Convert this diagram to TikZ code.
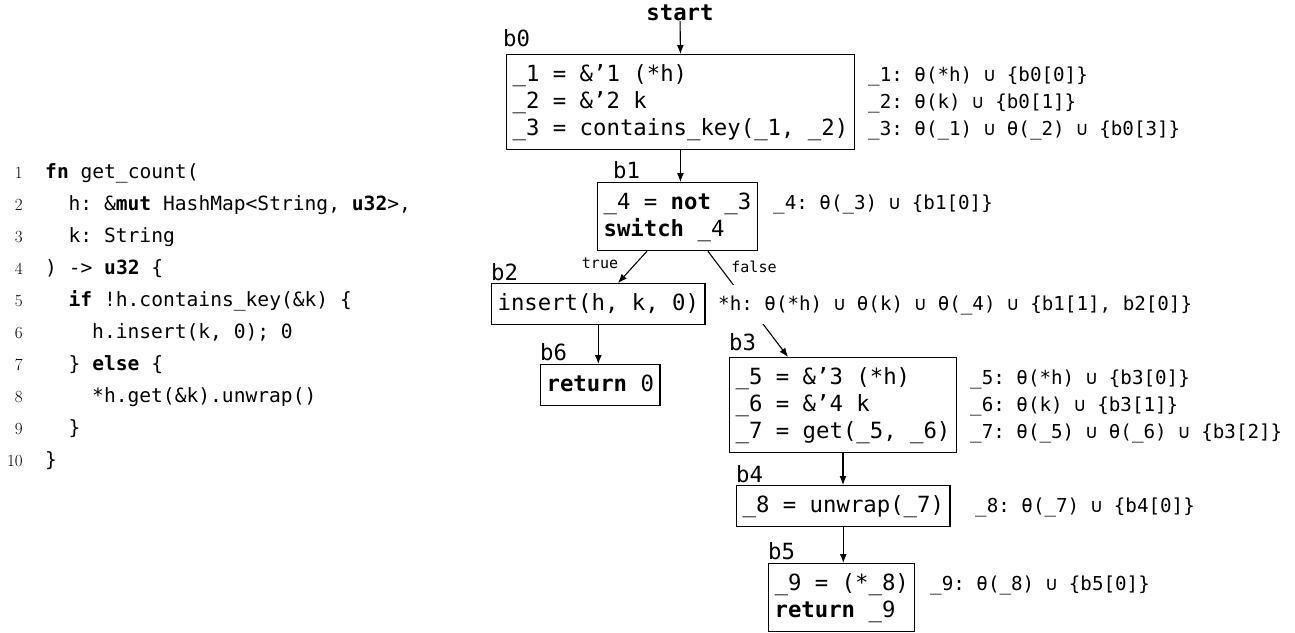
\documentclass[tikz,border=0pt]{standalone}
\usepackage{fontspec}
\setmonofont{DejaVu Sans Mono}
\usetikzlibrary{arrows.meta,calc}
\newcommand\boxfont{\ttfamily\fontsize{22.3}{27}\selectfont}
\newcommand\annfont{\ttfamily\fontsize{19.2}{27}\selectfont}
\newcommand\codefont{\ttfamily\fontsize{19.6}{22}\selectfont}
\newcommand\sx{\rule[-7pt]{0pt}{27pt}}
\begin{document}
\begin{tikzpicture}[x=1pt,y=-1pt,
  blk/.style={draw,line width=1.2pt,inner xsep=6pt,inner ysep=7pt,align=left,anchor=north west,font=\boxfont},
  ann/.style={inner xsep=0pt,inner ysep=7pt,align=left,anchor=north west,font=\annfont},
  blab/.style={anchor=base west,inner sep=0pt,font=\boxfont},
  arr/.style={line width=1.1pt,-{Latex[length=9pt,width=7pt]}},
  edgelab/.style={font=\ttfamily\fontsize{15}{18}\selectfont,inner sep=0pt},
  code/.style={anchor=base west,inner sep=0pt,font=\codefont},
  lno/.style={anchor=base east,inner sep=0pt,font=\fontsize{17}{19}\selectfont}]
\useasboundingbox (0,0) rectangle (1295,632);

% code listing
\node[lno] (n1) at (23,178) {1};
\node[lno] (n2) at (23,210) {2};
\node[lno] (n3) at (23,242) {3};
\node[lno] (n4) at (23,274) {4};
\node[lno] (n5) at (23,306) {5};
\node[lno] (n6) at (23,338) {6};
\node[lno] (n7) at (23,370) {7};
\node[lno] (n8) at (23,402) {8};
\node[lno] (n9) at (23,434) {9};
\node[lno] (n10) at (23,466) {10};
\node[code] (c1) at (45,178) {\textbf{fn} get\_count(};
\node[code] (c2) at (68.5,210) {h: \&\textbf{mut} HashMap<String, \textbf{u32}>,};
\node[code] (c3) at (68.5,242) {k: String};
\node[code] (c4) at (45,274) {) -> \textbf{u32} \{};
\node[code] (c5) at (68.5,306) {\textbf{if} !h.contains\_key(\&k) \{};
\node[code] (c6) at (92,338) {h.insert(k, 0); 0};
\node[code] (c7) at (68.5,370) {\} \textbf{else} \{};
\node[code] (c8) at (92,402) {*h.get(\&k).unwrap()};
\node[code] (c9) at (68.5,434) {\}};
\node[code] (c10) at (45,466) {\}};

% blocks
\node[font=\boxfont\bfseries,inner sep=0pt] (start) at (680,13) {start};
\node[blk] (b0) at (506,54) {\sx\_1 = \&’1 (*h)\\\sx\_2 = \&’2 k\\\sx\_3 = contains\_key(\_1, \_2)};
\node[blk] (b1) at (597,182) {\sx\_4 = \textbf{not} \_3\\\sx\textbf{switch} \_4};
\node[blk] (b2) at (491,283) {\sx insert(h, k, 0)};
\node[blk] (b6) at (540,364) {\sx\textbf{return} 0};
\node[blk] (b3) at (729,357) {\sx\_5 = \&’3 (*h)\\\sx\_6 = \&’4 k\\\sx\_7 = get(\_5, \_6)};
\node[blk] (b4) at (736,485) {\sx\_8 = unwrap(\_7)};
\node[blk] (b5) at (768,563) {\sx\_9 = (*\_8)\\\sx\textbf{return} \_9};

% block labels
\node[blab] (l0) at (503,46) {b0};
\node[blab] (l1) at (613,178) {b1};
\node[blab] (l2) at (491,280) {b2};
\node[blab] (l6) at (540,360) {b6};
\node[blab] (l3) at (729,350) {b3};
\node[blab] (l4) at (736,482) {b4};
\node[blab] (l5) at (768,559) {b5};

% edges
\draw[arr] (start) -- (b0.north);
\draw[arr] (b0.south) -- (b0.south |- b1.north);
\draw[arr] ($(b1.south west)+(50,0)$) -- ($(b2.north west)+(127,0)$);
\draw[arr] ($(b1.south east)+(-50,0)$) -- ($(b3.north west)+(59,0)$);
\draw[arr] (b2.south) -- (b2.south |- b6.north);
\draw[arr] (b3.south) -- (b3.south |- b4.north);
\draw[arr] (b4.south) -- (b4.south |- b5.north);
\node[edgelab] (tl) at (600,263) {true};
\node[edgelab] (fl) at (754,267) {false};

% annotations
\node[ann] (a0) at (868,54) {\sx\_1: θ(*h) ∪ \{b0[0]\}\\\sx\_2: θ(k) ∪ \{b0[1]\}\\\sx\_3: θ(\_1) ∪ θ(\_2) ∪ \{b0[3]\}};
\node[ann] (a1) at (773,182) {\sx\_4: θ(\_3) ∪ \{b1[0]\}};
\node[ann,anchor=west,fill=white,inner ysep=6pt] (ah) at (718,304) {\sx*h: θ(*h) ∪ θ(k) ∪ θ(\_4) ∪ \{b1[1], b2[0]\}};
\node[ann] (a3) at (970,357) {\sx\_5: θ(*h) ∪ \{b3[0]\}\\\sx\_6: θ(k) ∪ \{b3[1]\}\\\sx\_7: θ(\_5) ∪ θ(\_6) ∪ \{b3[2]\}};
\node[ann] (a4) at (975,485) {\sx\_8: θ(\_7) ∪ \{b4[0]\}};
\node[ann] (a5) at (930,563) {\sx\_9: θ(\_8) ∪ \{b5[0]\}};
\end{tikzpicture}
\end{document}
